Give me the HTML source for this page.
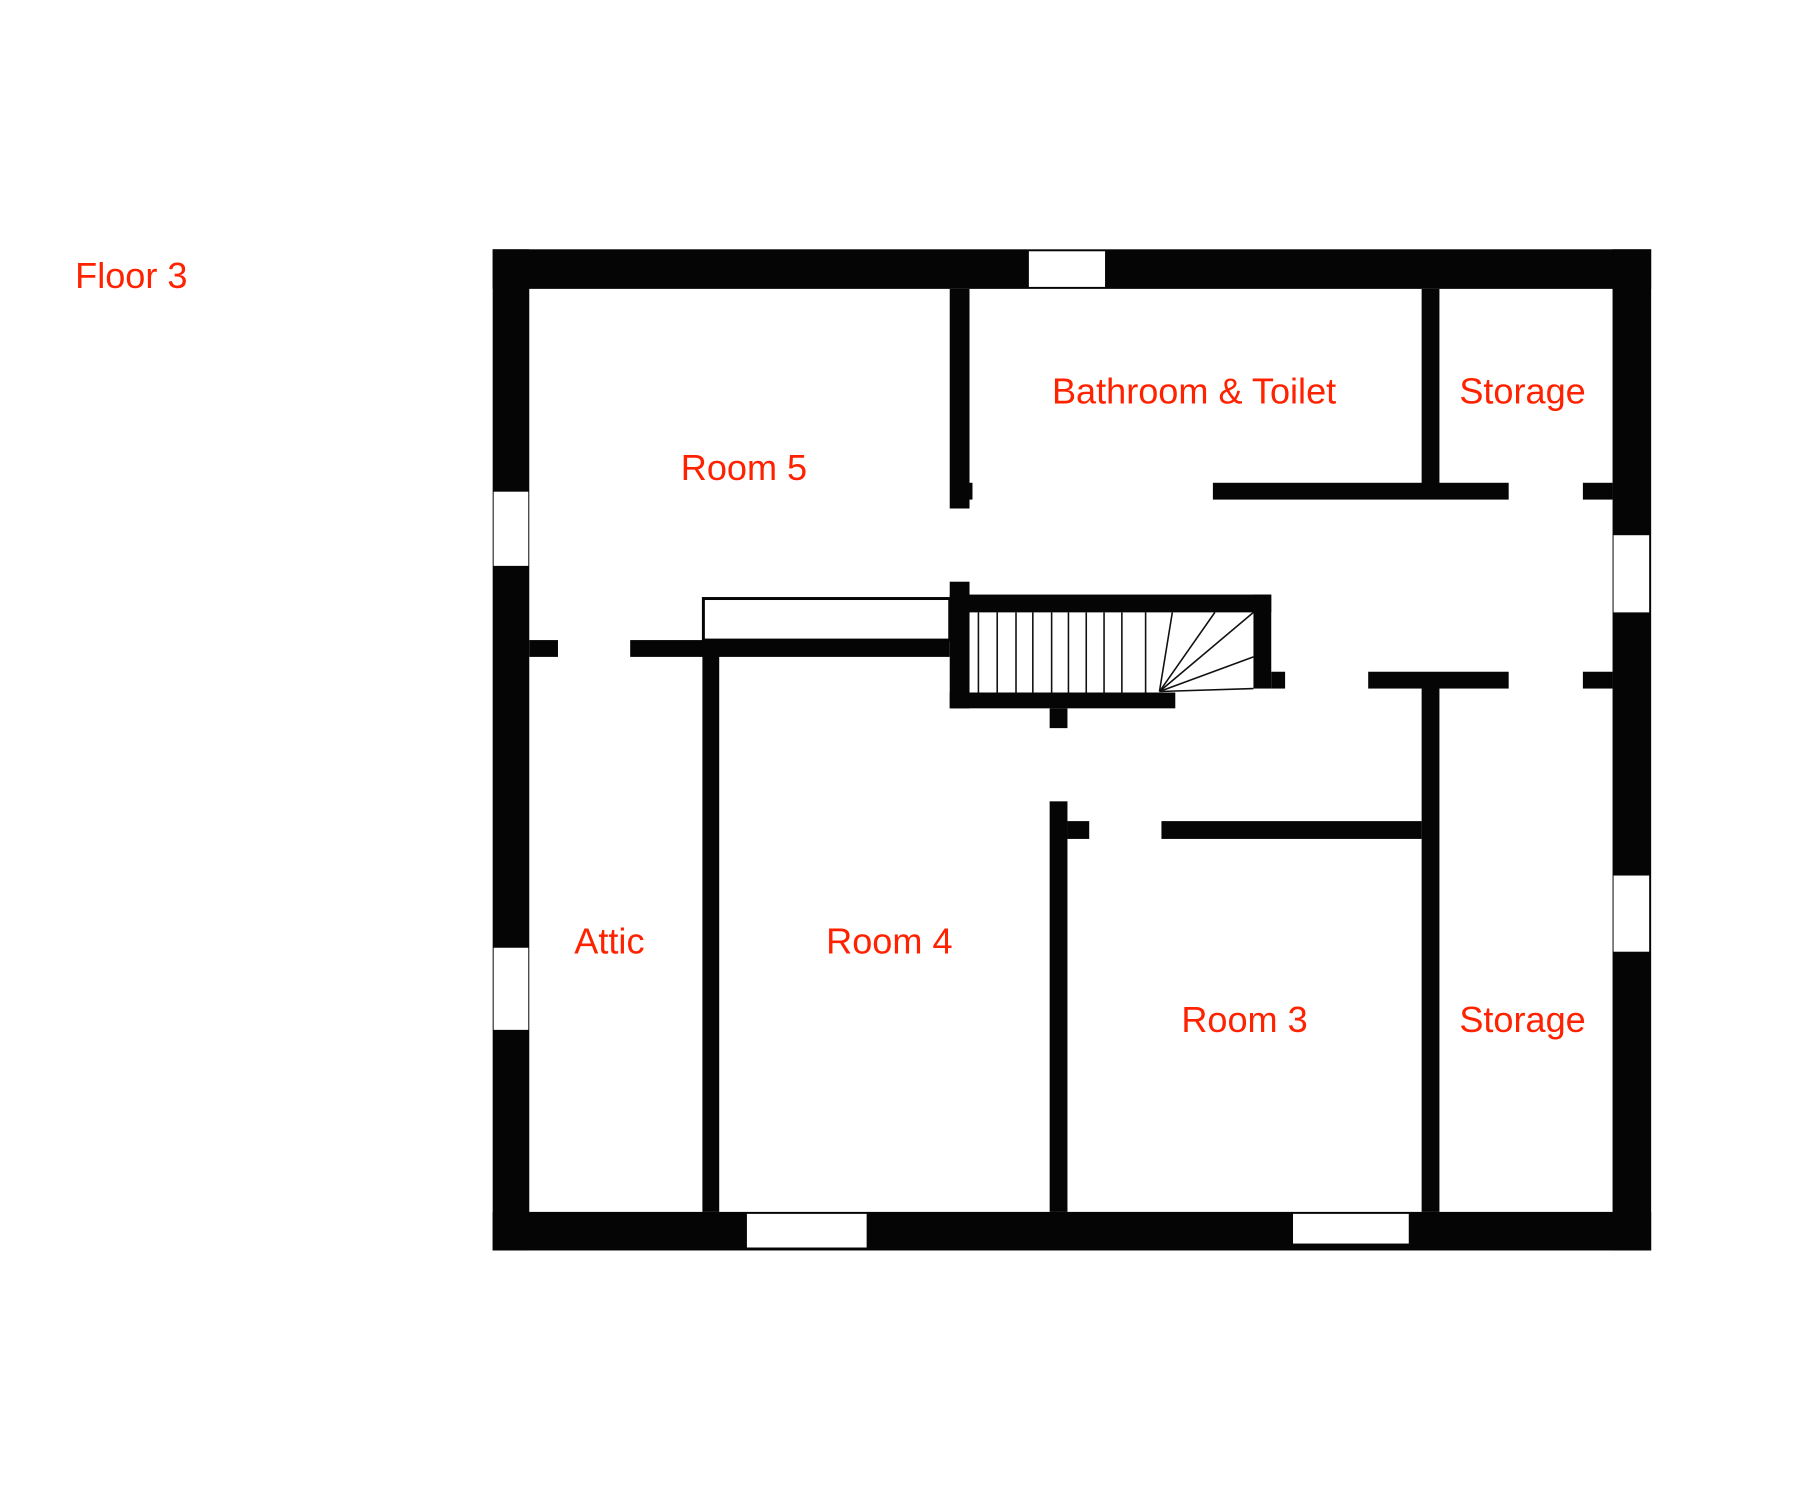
<!DOCTYPE html>
<html><head><meta charset="utf-8"><style>html,body{margin:0;padding:0;background:#fff}svg{display:block}</style></head>
<body>
<svg width="1800" height="1500" viewBox="0 0 1800 1500" xmlns="http://www.w3.org/2000/svg">
<rect width="1800" height="1500" fill="#fff"/>
<g transform="scale(0.9893)">
<g fill="#050505">
<rect x="498" y="252" width="1171" height="40"/>
<rect x="498" y="1225" width="1171" height="39"/>
<rect x="498" y="252" width="37" height="1012"/>
<rect x="1630" y="252" width="39" height="1012"/>
<rect x="960" y="292" width="20" height="222"/>
<rect x="980" y="488" width="3" height="17"/>
<rect x="960" y="588" width="20" height="128"/>
<rect x="1226" y="488" width="299" height="17"/>
<rect x="1437" y="292" width="18" height="200"/>
<rect x="1600" y="488" width="30" height="17"/>
<rect x="1600" y="679" width="30" height="17"/>
<rect x="535" y="647" width="29" height="17"/>
<rect x="637" y="647" width="323" height="17"/>
<rect x="710" y="660" width="17" height="565"/>
<rect x="960" y="601" width="325" height="18"/>
<rect x="1267" y="601" width="18" height="95"/>
<rect x="1285" y="679" width="14" height="17"/>
<rect x="960" y="700" width="228" height="16"/>
<rect x="1061" y="716" width="18" height="20"/>
<rect x="1383" y="679" width="142" height="17"/>
<rect x="1437" y="690" width="18" height="535"/>
<rect x="1061" y="810" width="18" height="415"/>
<rect x="1079" y="830" width="22" height="18"/>
<rect x="1174" y="830" width="263" height="18"/>
</g>
<g fill="#fff">
<rect x="1040" y="254" width="77" height="36"/>
<rect x="499" y="497" width="35" height="75"/>
<rect x="499" y="958" width="35" height="83"/>
<rect x="1631" y="541" width="36" height="78"/>
<rect x="1631" y="885" width="36" height="77"/>
<rect x="755" y="1227" width="121" height="34"/>
<rect x="1307" y="1227" width="117" height="30"/>
</g>
<rect x="711" y="605" width="249" height="42" fill="none" stroke="#050505" stroke-width="3"/>
<g stroke="#111" stroke-width="1.6">
<line x1="989" y1="619" x2="989" y2="700"/>
<line x1="1008" y1="619" x2="1008" y2="700"/>
<line x1="1027" y1="619" x2="1027" y2="700"/>
<line x1="1044" y1="619" x2="1044" y2="700"/>
<line x1="1063" y1="619" x2="1063" y2="700"/>
<line x1="1080" y1="619" x2="1080" y2="700"/>
<line x1="1098" y1="619" x2="1098" y2="700"/>
<line x1="1116" y1="619" x2="1116" y2="700"/>
<line x1="1134" y1="619" x2="1134" y2="700"/>
<line x1="1158" y1="619" x2="1158" y2="700"/>
<line x1="1172" y1="699" x2="1185" y2="619"/>
<line x1="1172" y1="699" x2="1228" y2="619"/>
<line x1="1172" y1="699" x2="1267" y2="619"/>
<line x1="1172" y1="699" x2="1267" y2="664"/>
<line x1="1172" y1="699" x2="1267" y2="696"/>
</g>
<g font-family="Liberation Sans, sans-serif" font-size="36.5" fill="#ff2200" text-anchor="middle">
<text x="76" y="291" text-anchor="start">Floor 3</text>
<text x="752" y="485">Room 5</text>
<text x="1207" y="408">Bathroom &amp; Toilet</text>
<text x="1539" y="408">Storage</text>
<text x="616" y="964">Attic</text>
<text x="899" y="964">Room 4</text>
<text x="1258" y="1043">Room 3</text>
<text x="1539" y="1043">Storage</text>
</g>
</g>
</svg>
</body></html>
